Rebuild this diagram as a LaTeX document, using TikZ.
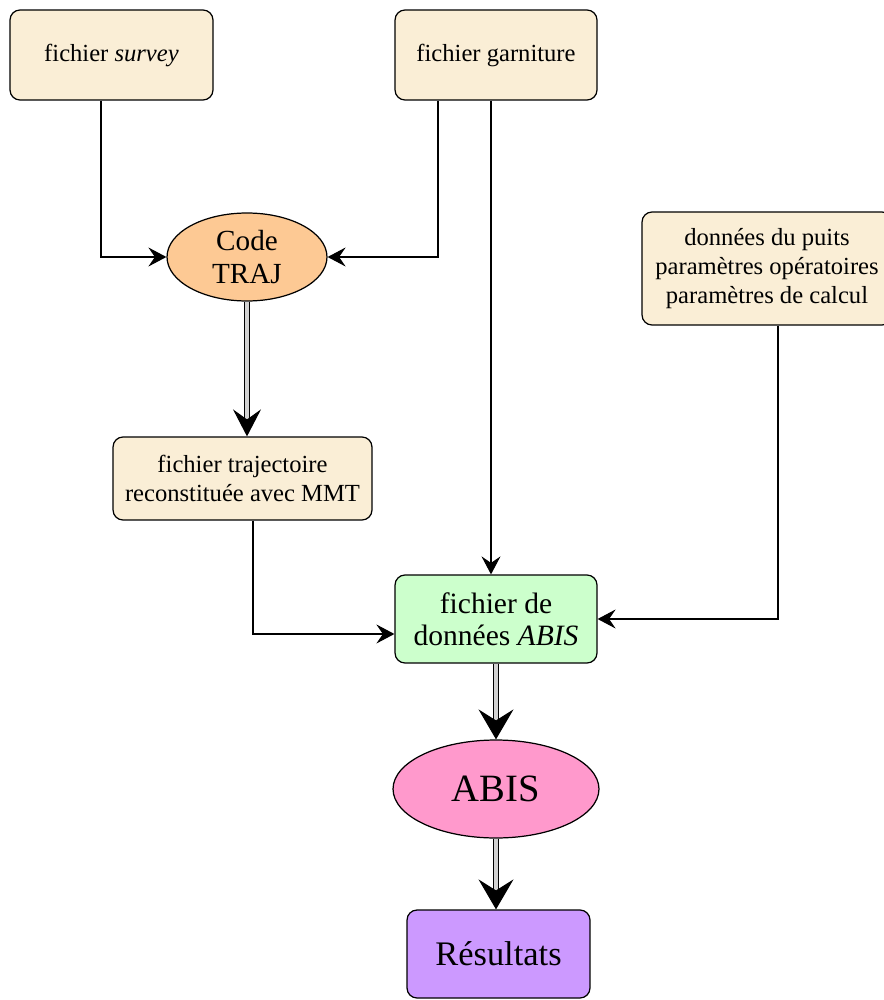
\documentclass[tikz,border=0pt]{standalone}
\usepackage{fontspec}
\setmainfont{Liberation Serif}
\usetikzlibrary{shapes.geometric, arrows.meta, positioning, calc}
\definecolor{parchemin}{RGB}{250,238,214}
\definecolor{orangetraj}{RGB}{253,201,148}
\definecolor{vertabis}{RGB}{204,255,204}
\definecolor{roseabis}{RGB}{255,153,204}
\definecolor{violetres}{RGB}{204,153,255}
\tikzset{
    fichier/.style={rectangle, rounded corners=0.2cm, draw=black, fill=parchemin, line width=0.7pt, align=center, font=\fontsize{14}{16.5}\selectfont},
    programme/.style={ellipse, draw=black, line width=0.7pt, inner sep=0pt, align=center},
    fleche/.style={-{Stealth[length=0.36cm, width=0.38cm, inset=0.13cm]}, line width=0.6pt},
    doublefleche/.style={-{Stealth[length=0.6cm, width=0.7cm, inset=0.22cm]}, double=gray!35, double distance=1.8pt, line width=0.6pt},
}

\begin{document}
\begin{tikzpicture}[
        x=0.02cm, y=-0.02cm,
        resultat/.style={rectangle, rounded corners=0.2cm, draw=black, line width=0.7pt, align=center}
    ]
        \useasboundingbox (0,0) rectangle (883,1000);
        % Nodes
        \node[fichier, minimum width=4.06cm, minimum height=1.8cm] (survey) at (111.5,55) {fichier \textit{survey}};
        \node[fichier, minimum width=4.04cm, minimum height=1.8cm] (garniture) at (496,55) {fichier garniture};
        \node[programme, fill=orangetraj, minimum width=3.2cm, minimum height=1.76cm, font=\fontsize{16.6}{18.5}\selectfont] (traj) at (247,257) {Code\\TRAJ};
        \node[fichier, minimum width=5cm, minimum height=2.26cm] (puits) at (767,268.5) {données du puits\\paramètres opératoires\\paramètres de calcul};
        \node[fichier, minimum width=5.18cm, minimum height=1.66cm] (trajectoire) at (242.5,478.5) {fichier trajectoire\\reconstituée avec MMT};
        \node[resultat, fill=vertabis, minimum width=4.04cm, minimum height=1.76cm, font=\fontsize{16.8}{18.5}\selectfont] (abisdata) at (496,619) {fichier de\\données \textit{ABIS}};
        \node[programme, fill=roseabis, minimum width=4.12cm, minimum height=1.96cm, font=\fontsize{22}{24}\selectfont] (abis) at (496,789) {ABIS};
        \node[resultat, fill=violetres, minimum width=3.66cm, minimum height=1.76cm, font=\fontsize{19.6}{22}\selectfont] (resultats) at (498.5,954) {Résultats};

        % Connections
        \draw[fleche] ([xshift=-0.21cm]survey.south) |- (traj.west);
        \draw[fleche] ([xshift=-1.16cm]garniture.south) |- (traj.east);
        \draw[fleche] ([xshift=-0.1cm]garniture.south) -- ([xshift=-0.1cm]abisdata.north);
        \draw[fleche] ([xshift=0.22cm]puits.south) |- (abisdata.east);
        \draw[fleche] ([xshift=0.21cm]trajectoire.south) |- ([yshift=-0.3cm]abisdata.west);
        \draw[doublefleche, -{Stealth[length=0.54cm, width=0.56cm, inset=0.2cm]}] (traj) -- (traj |- trajectoire.north);
        \draw[doublefleche] (abisdata) -- (abis);
        \draw[doublefleche] (abis) -- (abis |- resultats.north);
\end{tikzpicture}
\end{document}
